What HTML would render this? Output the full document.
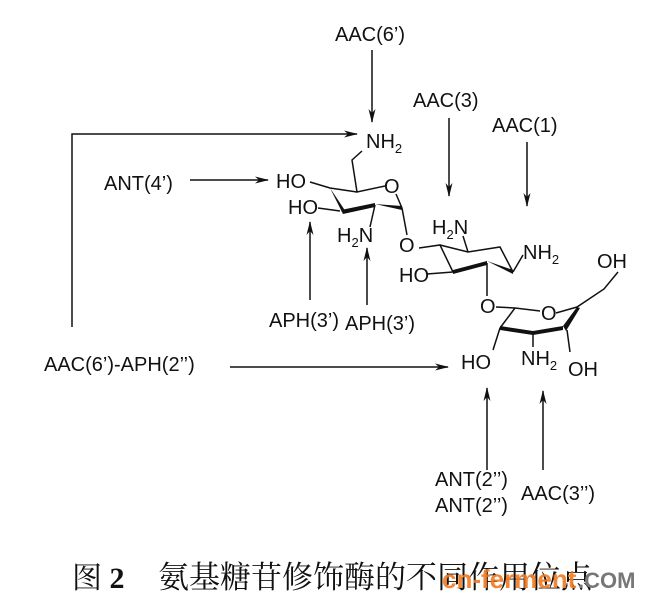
<!DOCTYPE html>
<html><head><meta charset="utf-8"><style>
body{margin:0;background:#fff;width:646px;height:597px;overflow:hidden}
svg text{font-family:"Liberation Sans",sans-serif;font-size:20px;fill:#111}
</style></head><body>
<svg width="646" height="597" viewBox="0 0 646 597" xmlns="http://www.w3.org/2000/svg">
<defs><marker id="a" markerWidth="14" markerHeight="8" refX="13" refY="4" orient="auto" markerUnits="userSpaceOnUse"><path d="M0,0.5 L14,4 L0,7.5 L4,4 z" fill="#111"/></marker></defs>
<g stroke="#111" stroke-width="1.5" fill="none">
<line x1="372" y1="50" x2="372" y2="122" marker-end="url(#a)"/>
<line x1="449" y1="118" x2="449" y2="196" marker-end="url(#a)"/>
<line x1="527" y1="142" x2="527" y2="206" marker-end="url(#a)"/>
<line x1="190" y1="180" x2="268" y2="180" marker-end="url(#a)"/>
<polyline points="72,327 72,134 357,134" marker-end="url(#a)"/>
<line x1="310" y1="300" x2="310" y2="222" marker-end="url(#a)"/>
<line x1="367" y1="305" x2="367" y2="248" marker-end="url(#a)"/>
<line x1="230" y1="367" x2="448" y2="367" marker-end="url(#a)"/>
<line x1="487" y1="470" x2="487" y2="388" marker-end="url(#a)"/>
<line x1="543" y1="470" x2="543" y2="391" marker-end="url(#a)"/>
<!-- ring1 -->
<polyline points="362,151 352,160 357,192 385,186"/>
<polyline points="396,194 402,208"/>
<polyline points="310,182 330,188 357,192"/>
<polyline points="318,208 340,211"/>
<line x1="375" y1="205" x2="370" y2="227"/>
<line x1="402" y1="208" x2="407" y2="235"/>
<!-- ring2 -->
<polyline points="419,248 440,245 453,272"/>
<polyline points="440,245 468,252 500,247 513,272"/>
<line x1="468" y1="252" x2="463" y2="236"/>
<line x1="513" y1="272" x2="523" y2="255"/>
<line x1="427" y1="274" x2="453" y2="272"/>
<line x1="487" y1="263" x2="487" y2="296"/>
<!-- ring3 -->
<polyline points="496,307 515,308 540,311"/>
<polyline points="556,313 577,307 604,289 618,272"/>
<polyline points="515,308 500,328"/>
<line x1="500" y1="328" x2="493" y2="350"/>
<line x1="533" y1="333" x2="533" y2="347"/>
<line x1="567" y1="330" x2="570" y2="352"/>
</g>
<g fill="#111">
<polygon points="330,188 342,212 344,209"/>
<polygon points="341,210 375,203 375,207 343,214"/>
<polygon points="375,204 402,206 402,210"/>
<polygon points="453,270 487,261 487,265 453,274"/>
<polygon points="487,261 513,270 513,274"/>
<polygon points="500,326 533,331 533,335 500,330"/>
<polygon points="533,331 563,326 563,330 533,335"/>
<polygon points="563,326 577,307 580,308 566,331"/>
</g>
<text x="335" y="41">AAC(6’)</text>
<text x="413" y="107">AAC(3)</text>
<text x="492" y="132">AAC(1)</text>
<text x="104" y="190">ANT(4’)</text>
<text x="366" y="148">NH<tspan font-size="13" dy="5">2</tspan></text>
<text x="276" y="188">HO</text>
<text x="288" y="214">HO</text>
<text x="384" y="193">O</text>
<text x="337" y="242">H<tspan font-size="13" dy="5">2</tspan><tspan dy="-5">N</tspan></text>
<text x="399" y="252">O</text>
<text x="432" y="234">H<tspan font-size="13" dy="5">2</tspan><tspan dy="-5">N</tspan></text>
<text x="523" y="259">NH<tspan font-size="13" dy="5">2</tspan></text>
<text x="399" y="282">HO</text>
<text x="480" y="313">O</text>
<text x="541" y="320">O</text>
<text x="597" y="268">OH</text>
<text x="461" y="369">HO</text>
<text x="521" y="365">NH<tspan font-size="13" dy="5">2</tspan></text>
<text x="568" y="376">OH</text>
<text x="269" y="327">APH(3’)</text>
<text x="345" y="330">APH(3’)</text>
<text x="44" y="371">AAC(6’)-APH(2’’)</text>
<text x="435" y="486">ANT(2’’)</text>
<text x="435" y="512">ANT(2’’)</text>
<text x="521" y="500">AAC(3’’)</text>
<text x="72" y="588" style="font-family:'Liberation Serif','Noto Serif CJK SC',serif;font-size:30px">图 <tspan font-weight="bold">2</tspan></text>
<text x="158" y="588" style="font-family:'Liberation Serif','Noto Serif CJK SC',serif;font-size:31px">氨基糖苷修饰酶的不同作用位点</text>
<text x="442" y="588" style="font-size:26px;font-weight:bold;fill:#f07a20;opacity:0.9">cn-ferment</text>
<text x="578" y="588" style="font-size:22px;font-weight:bold;fill:#777">.COM</text>
</svg>
</body></html>
